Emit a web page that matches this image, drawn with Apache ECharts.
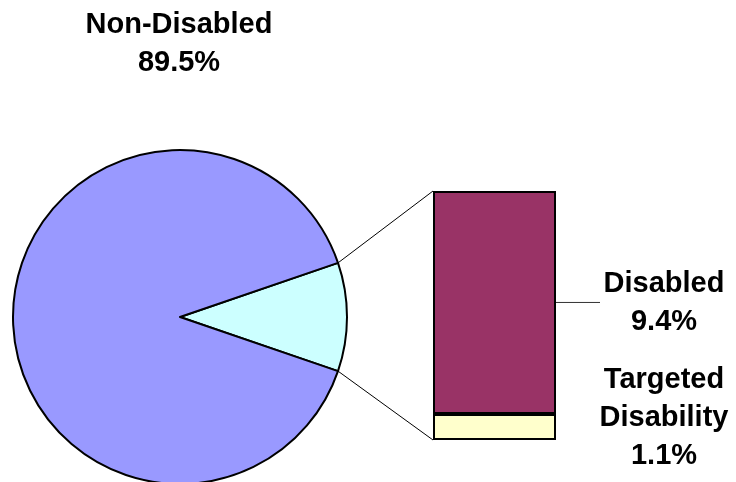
<!DOCTYPE html>
<html>
<head>
<meta charset="utf-8">
<script src="https://cdn.jsdelivr.net/npm/echarts@6/dist/echarts.min.js"></script>
<style>
html,body{margin:0;padding:0;background:#fff;}
#c{width:736px;height:482px;}
</style>
</head>
<body>
<div id="c"></div>
<script>
// ---- data ----
var pieNames = ['Other', 'Non-Disabled'];
var nonDisabled = 89.5;
var barNames = ['Targeted Disability', 'Disabled'];
var barValues = [1.1, 9.4];
var barLabels = ['Targeted\nDisability', 'Disabled'];

var otherTotal = barValues[0] + barValues[1];
var total = otherTotal + nonDisabled;
var halfAngle = otherTotal / total * 180; // degrees

var FONT = {fontFamily: '"Liberation Sans", Arial, sans-serif', fontWeight: 'bold', fontSize: 29, color: '#000', lineHeight: 38};

var PIE_C = [180, 317], PIE_R = 167;
var GRID = {left: 433, top: 191, width: 123, height: 249};

var chart = echarts.init(document.getElementById('c'), null, {renderer: 'canvas'});

var option = {
  animation: false,
  backgroundColor: '#fff',
  title: {
    text: pieNames[1] + '\n' + (nonDisabled / total * 100).toFixed(1) + '%',
    left: 179, top: 6, textAlign: 'center', padding: 0,
    textStyle: Object.assign({}, FONT)
  },
  grid: {left: GRID.left, top: GRID.top, width: GRID.width, height: GRID.height, containLabel: false},
  xAxis: {type: 'category', data: ['x'], show: false},
  yAxis: {type: 'value', min: 0, max: otherTotal, show: false},
  series: [
    {
      type: 'pie',
      center: PIE_C,
      radius: PIE_R,
      startAngle: halfAngle,
      clockwise: true,
      silent: true,
      itemStyle: {borderColor: '#000', borderWidth: 2},
      label: {show: false},
      labelLine: {show: false},
      data: [
        {name: pieNames[0], value: otherTotal, itemStyle: {color: '#CCFFFF'}},
        {name: pieNames[1], value: nonDisabled, itemStyle: {color: '#9999FF'}}
      ]
    },
    {
      type: 'bar', stack: 's', barWidth: '100%', silent: true,
      data: [barValues[0]],
      itemStyle: {color: '#FFFFCC', borderColor: '#000', borderWidth: 2},
      label: Object.assign({show: true, position: 'right', distance: 0, offset: [108, -9], align: 'center',
        formatter: function (p) { return barLabels[0] + '\n' + p.value.toFixed(1) + '%'; }}, FONT)
    },
    {
      type: 'bar', stack: 's', barWidth: '100%', silent: true,
      data: [barValues[1]],
      itemStyle: {color: '#993366', borderColor: '#000', borderWidth: 2},
      label: Object.assign({show: true, position: 'right', distance: 0, offset: [108, 1], align: 'center',
        formatter: function (p) { return barLabels[1] + '\n' + p.value.toFixed(1) + '%'; }}, FONT)
    }
  ]
};
chart.setOption(option);

// connector lines computed from the chart's scales and pie geometry
var yTop = chart.convertToPixel({yAxisIndex: 0}, otherTotal);
var yBot = chart.convertToPixel({yAxisIndex: 0}, 0);
var yDis = chart.convertToPixel({yAxisIndex: 0}, barValues[0] + barValues[1] / 2);
var a = halfAngle * Math.PI / 180;
var px = PIE_C[0] + PIE_R * Math.cos(a);
var pyTop = PIE_C[1] - PIE_R * Math.sin(a);
var pyBot = PIE_C[1] + PIE_R * Math.sin(a);
var bx0 = GRID.left, bx1 = GRID.left + GRID.width;

chart.setOption({
  graphic: [
    {type: 'line', silent: true, shape: {x1: px, y1: pyTop, x2: bx0, y2: yTop}, style: {stroke: '#000', lineWidth: 1}},
    {type: 'line', silent: true, shape: {x1: px, y1: pyBot, x2: bx0, y2: yBot}, style: {stroke: '#000', lineWidth: 1}},
    {type: 'line', silent: true, shape: {x1: bx1, y1: yDis, x2: 600, y2: yDis}, style: {stroke: '#333', lineWidth: 1}}
  ]
});
</script>
</body>
</html>
